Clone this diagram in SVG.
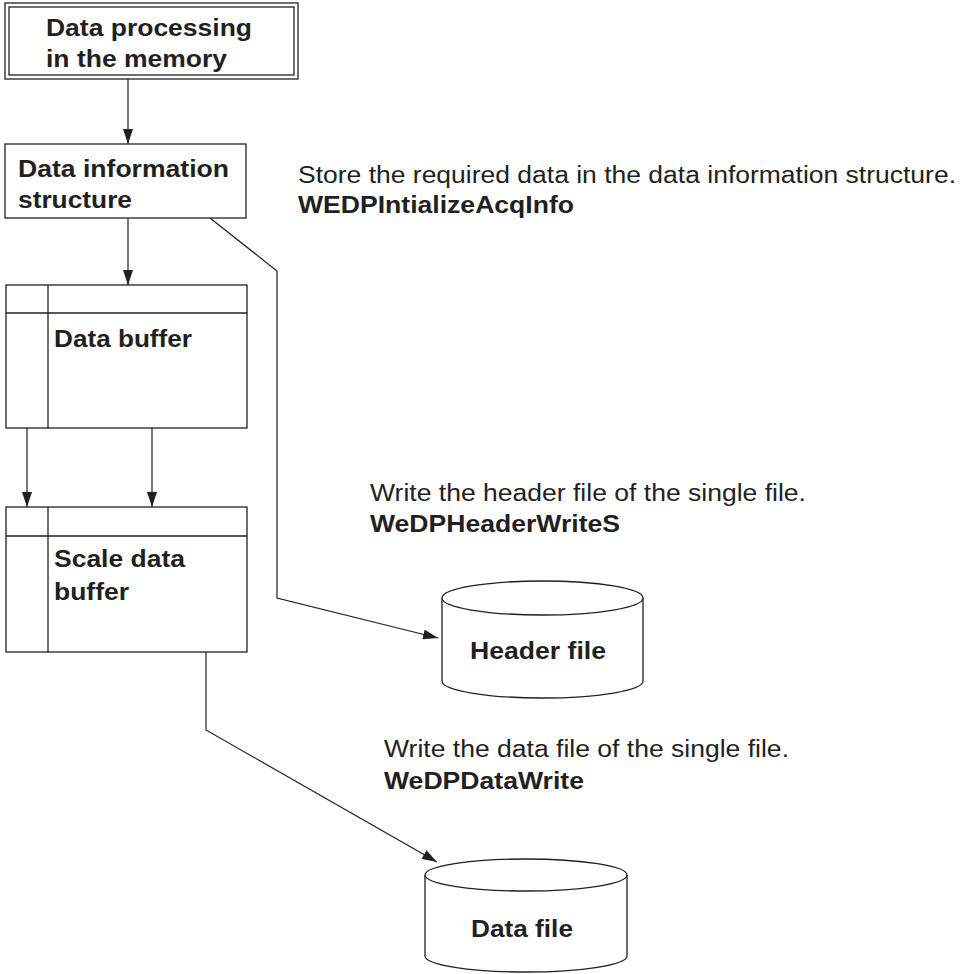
<svg xmlns="http://www.w3.org/2000/svg" width="960" height="974" viewBox="0 0 960 974">
<style>
.s{fill:none;stroke:#231f20;stroke-width:1.3}
.b{fill:#fff;stroke:#231f20;stroke-width:1.3}
.t{font-family:"Liberation Sans",Arial,Helvetica,sans-serif;font-size:23px;fill:#231f20}
.tb{font-weight:bold}
.c{fill:none;stroke:#231f20;stroke-width:1.2}
</style>
<defs>
<marker id="ah" markerUnits="userSpaceOnUse" markerWidth="15" markerHeight="10" refX="15" refY="5" orient="auto">
<path d="M0,0 L15,5 L0,10 z" fill="#231f20"/>
</marker>
</defs>
<rect width="960" height="974" fill="#fff"/>
<g id="connectors">
<line class="c" x1="128" y1="79" x2="128" y2="144" marker-end="url(#ah)"/>
<line class="c" x1="128" y1="218" x2="128" y2="285" marker-end="url(#ah)"/>
<line class="c" x1="27" y1="428" x2="27" y2="507" marker-end="url(#ah)"/>
<line class="c" x1="152" y1="428" x2="152" y2="507" marker-end="url(#ah)"/>
<polyline class="c" points="210,218 277,271 277,598 438,638" marker-end="url(#ah)"/>
<polyline class="c" points="206,652 206,730 437,862" marker-end="url(#ah)"/>
</g>
<g id="node-memory">
<rect class="b" x="5" y="3" width="293" height="76"/>
<rect class="s" x="9" y="7" width="285" height="68"/>
<text class="t tb" x="46" y="36" textLength="206" lengthAdjust="spacingAndGlyphs">Data processing</text>
<text class="t tb" x="46" y="67" textLength="181" lengthAdjust="spacingAndGlyphs">in the memory</text>
</g>
<g id="node-info">
<rect class="b" x="5" y="144" width="241" height="74"/>
<text class="t tb" x="18" y="177" textLength="211" lengthAdjust="spacingAndGlyphs">Data information</text>
<text class="t tb" x="18" y="208" textLength="114" lengthAdjust="spacingAndGlyphs">structure</text>
</g>
<g id="node-databuffer">
<rect class="b" x="6" y="285" width="241" height="143"/>
<line class="s" x1="6" y1="313" x2="247" y2="313"/>
<line class="s" x1="48" y1="285" x2="48" y2="428"/>
<text class="t tb" x="54" y="347" textLength="138" lengthAdjust="spacingAndGlyphs">Data buffer</text>
</g>
<g id="node-scalebuffer">
<rect class="b" x="6" y="507" width="241" height="145"/>
<line class="s" x1="6" y1="536" x2="247" y2="536"/>
<line class="s" x1="48" y1="507" x2="48" y2="652"/>
<text class="t tb" x="54" y="567" textLength="131" lengthAdjust="spacingAndGlyphs">Scale data</text>
<text class="t tb" x="54" y="600" textLength="75" lengthAdjust="spacingAndGlyphs">buffer</text>
</g>
<g id="node-headerfile">
<path class="b" d="M442,598 L442,681 A100.5,17 0 0 0 643,681 L643,598"/>
<ellipse class="b" cx="542.5" cy="598" rx="100.5" ry="17"/>
<text class="t tb" x="470" y="659" textLength="136" lengthAdjust="spacingAndGlyphs">Header file</text>
</g>
<g id="node-datafile">
<path class="b" d="M425,875 L425,956 A101,16 0 0 0 627,956 L627,875"/>
<ellipse class="b" cx="526" cy="875" rx="101" ry="16"/>
<text class="t tb" x="471" y="937" textLength="102" lengthAdjust="spacingAndGlyphs">Data file</text>
</g>
<g id="label-store">
<text class="t" x="298" y="183" textLength="658" lengthAdjust="spacingAndGlyphs">Store the required data in the data information structure.</text>
<text class="t tb" x="298" y="213" textLength="276" lengthAdjust="spacingAndGlyphs">WEDPIntializeAcqInfo</text>
</g>
<g id="label-header">
<text class="t" x="370" y="501" textLength="436" lengthAdjust="spacingAndGlyphs">Write the header file of the single file.</text>
<text class="t tb" x="370" y="532" textLength="250" lengthAdjust="spacingAndGlyphs">WeDPHeaderWriteS</text>
</g>
<g id="label-data">
<text class="t" x="384" y="757" textLength="405" lengthAdjust="spacingAndGlyphs">Write the data file of the single file.</text>
<text class="t tb" x="384" y="789" textLength="200" lengthAdjust="spacingAndGlyphs">WeDPDataWrite</text>
</g>
</svg>
